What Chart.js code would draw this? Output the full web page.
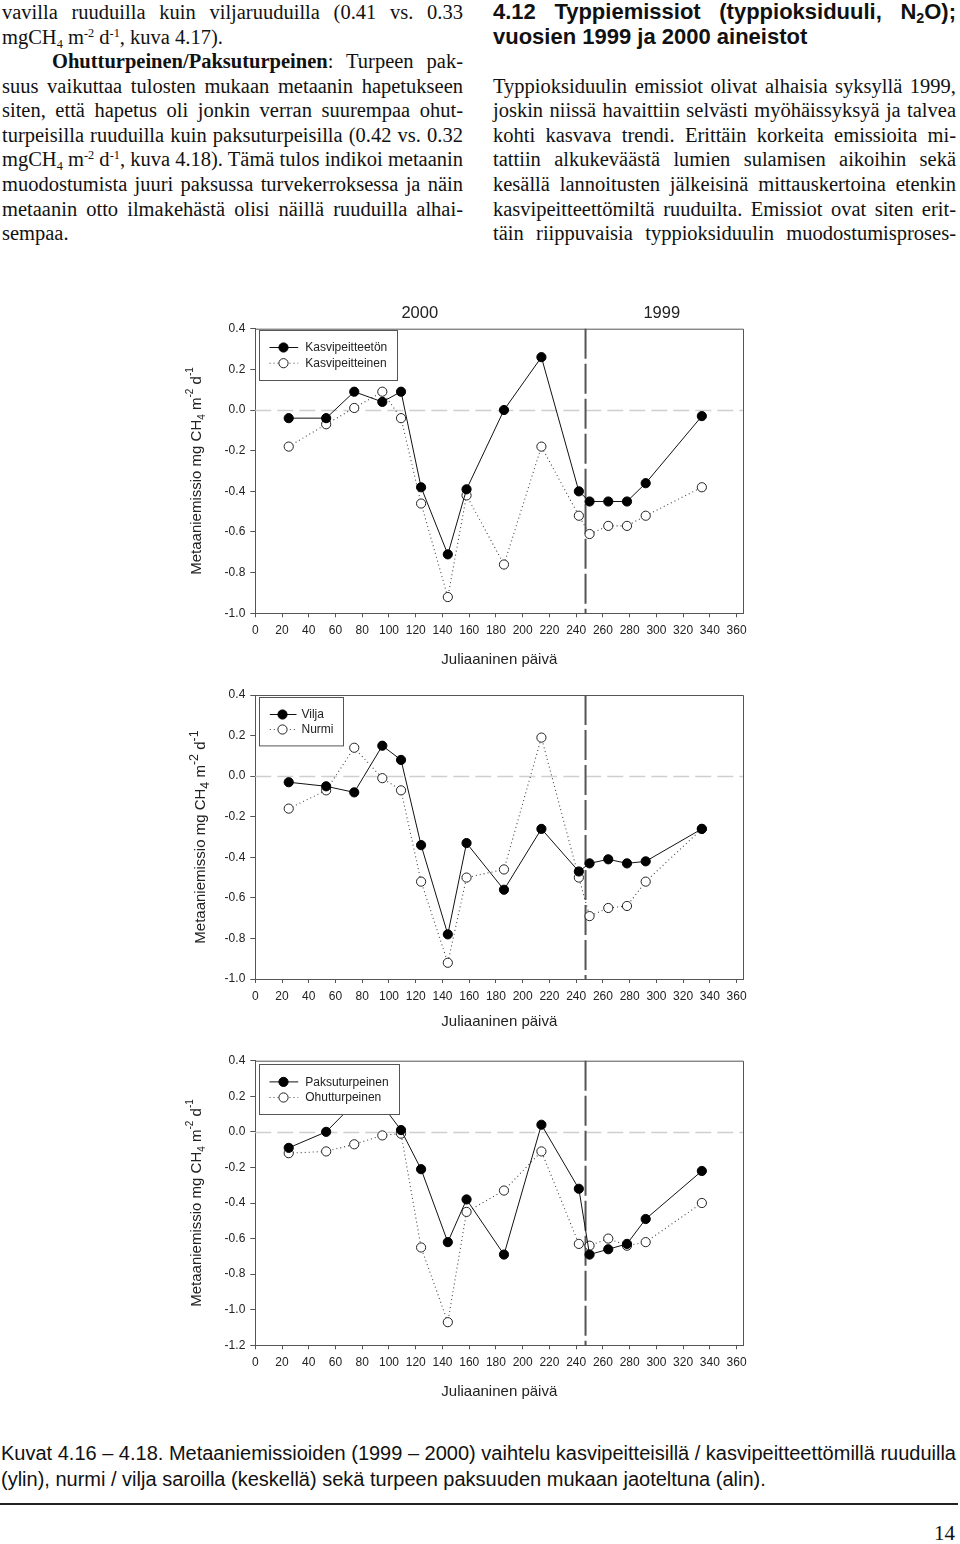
<!DOCTYPE html>
<html><head><meta charset="utf-8">
<script src="https://cdn.jsdelivr.net/npm/chart.js@4.4.1/dist/chart.umd.min.js"></script>
<style>
html,body{margin:0;padding:0;background:#fff;}
body{width:960px;height:1544px;position:relative;overflow:hidden;color:#111;}
.col{position:absolute;top:0;font-family:'Liberation Serif','Times New Roman',serif;font-size:20.5px;line-height:24.56px;}
.col div{white-space:nowrap;text-align:justify;text-align-last:justify;}
.col div.l{text-align:left;text-align-last:left;}
.col sub,.col sup{font-size:0.6em;line-height:0;}
.col sub{vertical-align:-0.3em}
.col sup{vertical-align:0.55em}
.h{font-family:'Liberation Sans',Arial,sans-serif;font-weight:bold;font-size:22px;}
.h sub{font-size:0.65em}
canvas{position:absolute;}
.cap{position:absolute;left:1px;font-family:'Liberation Sans',Arial,sans-serif;font-size:20px;line-height:26px;white-space:nowrap;transform-origin:0 0;color:#111;}
.rule{position:absolute;left:0;top:1503px;width:958px;height:2px;background:#222;}
.pg{position:absolute;right:5px;top:1520px;font-family:'Liberation Serif','Times New Roman',serif;font-size:21px;line-height:26px;color:#111;}
</style>
</head><body>

<div class="col" style="left:2px;width:461px;">
<div>vavilla ruuduilla kuin viljaruuduilla (0.41 vs. 0.33</div>
<div class="l">mgCH<sub>4</sub> m<sup>-2</sup> d<sup>-1</sup>, kuva 4.17).</div>
<div style="padding-left:50px;"><b>Ohutturpeinen/Paksuturpeinen</b>: Turpeen pak-</div>
<div>suus vaikuttaa tulosten mukaan metaanin hapetukseen</div>
<div>siten, että hapetus oli jonkin verran suurempaa ohut-</div>
<div>turpeisilla ruuduilla kuin paksuturpeisilla (0.42 vs. 0.32</div>
<div>mgCH<sub>4</sub> m<sup>-2</sup> d<sup>-1</sup>, kuva 4.18). Tämä tulos indikoi metaanin</div>
<div>muodostumista juuri paksussa turvekerroksessa ja näin</div>
<div>metaanin otto ilmakehästä olisi näillä ruuduilla alhai-</div>
<div class="l">sempaa.</div>
</div>

<div class="col" style="left:493px;width:463px;">
<div class="h">4.12 Typpiemissiot (typpioksiduuli, N<sub>2</sub>O);</div>
<div class="h l">vuosien 1999 ja 2000 aineistot</div>
<div class="l">&nbsp;</div>
<div>Typpioksiduulin emissiot olivat alhaisia syksyllä 1999,</div>
<div>joskin niissä havaittiin selvästi myöhäissyksyä ja talvea</div>
<div>kohti kasvava trendi. Erittäin korkeita emissioita mi-</div>
<div>tattiin alkukeväästä lumien sulamisen aikoihin sekä</div>
<div>kesällä lannoitusten jälkeisinä mittauskertoina etenkin</div>
<div>kasvipeitteettömiltä ruuduilta. Emissiot ovat siten erit-</div>
<div>täin riippuvaisia typpioksiduulin muodostumisproses-</div>
</div>

<canvas id="c1" width="620" height="385" style="left:150px;top:290px;width:620px;height:385px;"></canvas>
<canvas id="c2" width="620" height="370" style="left:150px;top:675px;width:620px;height:370px;"></canvas>
<canvas id="c3" width="620" height="370" style="left:150px;top:1045px;width:620px;height:370px;"></canvas>

<div class="cap" id="cap1" style="top:1440px;">Kuvat 4.16 – 4.18. Metaaniemissioiden (1999 – 2000) vaihtelu kasvipeitteisillä / kasvipeitteettömillä ruuduilla</div>
<div class="cap" id="cap2" style="top:1466px;">(ylin), nurmi / vilja saroilla (keskellä) sekä turpeen paksuuden mukaan jaoteltuna (alin).</div>
<div class="rule"></div>
<div class="pg">14</div>

<script>
// ---------------- data ----------------
const days = [25, 53, 74, 95, 109, 124, 144, 158, 186, 214, 242, 250, 264, 278, 292, 334];

// Kuva 4.16
const bareLabel = 'Kasvipeitteetön';
const bareValues = [-0.04, -0.04, 0.09, 0.04, 0.09, -0.38, -0.71, -0.39, 0.00, 0.26, -0.40, -0.45, -0.45, -0.45, -0.36, -0.03];
const vegLabel = 'Kasvipeitteinen';
const vegValues = [-0.18, -0.07, 0.01, 0.09, -0.04, -0.46, -0.92, -0.42, -0.76, -0.18, -0.52, -0.61, -0.57, -0.57, -0.52, -0.38];

// Kuva 4.17
const cerealLabel = 'Vilja';
const cerealValues = [-0.03, -0.05, -0.08, 0.15, 0.08, -0.34, -0.78, -0.33, -0.56, -0.26, -0.47, -0.43, -0.41, -0.43, -0.42, -0.26];
const grassLabel = 'Nurmi';
const grassValues = [-0.16, -0.07, 0.14, -0.01, -0.07, -0.52, -0.92, -0.50, -0.46, 0.19, -0.50, -0.69, -0.65, -0.64, -0.52, -0.26];

// Kuva 4.18
const thickLabel = 'Paksuturpeinen';
const thickValues = [-0.09, 0.00, 0.16, 0.15, 0.01, -0.21, -0.62, -0.38, -0.69, 0.04, -0.32, -0.69, -0.66, -0.63, -0.49, -0.22];
const thinLabel = 'Ohutturpeinen';
const thinValues = [-0.12, -0.11, -0.07, -0.02, -0.01, -0.65, -1.07, -0.45, -0.33, -0.11, -0.63, -0.64, -0.60, -0.64, -0.62, -0.40];

// axes
const xMin = 0, xMax = 365;
const xTicks = [0, 20, 40, 60, 80, 100, 120, 140, 160, 180, 200, 220, 240, 260, 280, 300, 320, 340, 360];
const yMax = 0.4, yStep = 0.2;
const yMins = [-1.0, -1.0, -1.2];
const yearDividerDay = 247;
const yearLabels = ['2000', '1999'];
const yearLabelDays = [123, 304];
const xAxisTitle = 'Juliaaninen päivä';
const yTitleParts = [['Metaaniemissio mg CH', ''], ['4', 'sub'], [' m', ''], ['-2', 'sup'], [' d', ''], ['-1', 'sup']];

// ---------------- drawing ----------------
const FONT = '"Liberation Sans", Arial, Helvetica, sans-serif';
const CANVAS_LEFT = 150;
const PLOT_LEFT = 255.3, PLOT_RIGHT = 743.3;

function toPoints(vals) { return days.map((d, i) => ({ x: d, y: vals[i] })); }

function filledSet(label, vals) {
  return { label, data: toPoints(vals), borderColor: '#111', borderWidth: 1, backgroundColor: '#000',
    pointBackgroundColor: '#000', pointBorderColor: '#000', pointRadius: 4.6, pointBorderWidth: 1, tension: 0, clip: false };
}
function openSet(label, vals) {
  return { label, data: toPoints(vals), borderColor: '#444', borderWidth: 1.1, borderDash: [1, 3], backgroundColor: '#fff',
    pointBackgroundColor: '#fff', pointBorderColor: '#222', pointRadius: 4.6, pointBorderWidth: 1, tension: 0, clip: false };
}

function drawRich(ctx, parts, cx, cy, base, small) {
  ctx.save();
  ctx.translate(cx, cy);
  ctx.rotate(-Math.PI / 2);
  const segs = parts.map(p => ({ t: p[0], k: p[1] }));
  let total = 0;
  segs.forEach(s => { ctx.font = (s.k ? small : base) + 'px ' + FONT; s.w = ctx.measureText(s.t).width; total += s.w; });
  let xx = -total / 2;
  ctx.textBaseline = 'middle';
  ctx.textAlign = 'left';
  ctx.fillStyle = '#222';
  segs.forEach(s => {
    ctx.font = (s.k ? small : base) + 'px ' + FONT;
    const dy = s.k === 'sub' ? base * 0.32 : s.k === 'sup' ? -base * 0.42 : 0;
    ctx.fillText(s.t, xx, dy);
    xx += s.w;
  });
  ctx.restore();
}

const decor = {
  id: 'decor',
  beforeDatasetsDraw(chart, args, o) {
    const { ctx, chartArea: a, scales: { x, y } } = chart;
    ctx.save();
    const y0 = Math.round(y.getPixelForValue(0)) + 0.5;
    ctx.strokeStyle = '#cfcfcf'; ctx.lineWidth = 1.4; ctx.setLineDash([16, 6]);
    ctx.beginPath(); ctx.moveTo(a.left, y0); ctx.lineTo(a.right, y0); ctx.stroke();
    const xd = x.getPixelForValue(yearDividerDay);
    ctx.strokeStyle = '#555'; ctx.lineWidth = 2; ctx.setLineDash([30, 5]);
    ctx.beginPath(); ctx.moveTo(xd, a.top); ctx.lineTo(xd, a.bottom); ctx.stroke();
    ctx.restore();
  },
  afterDatasetsDraw(chart, args, o) {
    const { ctx, chartArea: a } = chart;
    const L = o.legend;
    ctx.save();
    ctx.font = '12px ' + FONT;
    const tw = Math.max(...chart.data.datasets.map(d => ctx.measureText(d.label).width));
    const bx = Math.round(a.left + 4) + 0.5, by = Math.round(a.top + L.dy) + 0.5;
    const w = Math.round(L.textX + tw + 10.5), h = L.h;
    ctx.fillStyle = '#fff'; ctx.fillRect(bx, by, w, h);
    ctx.strokeStyle = '#555'; ctx.lineWidth = 1; ctx.setLineDash([]);
    ctx.strokeRect(bx, by, w, h);
    chart.data.datasets.forEach((d, i) => {
      const ry = by + L.rows[i];
      ctx.save();
      ctx.strokeStyle = d.borderColor; ctx.lineWidth = d.borderWidth; ctx.setLineDash(d.borderDash || []);
      ctx.beginPath(); ctx.moveTo(bx + L.l0, ry); ctx.lineTo(bx + L.l1, ry); ctx.stroke();
      ctx.setLineDash([]);
      ctx.beginPath(); ctx.arc(bx + L.mx, ry, d.pointRadius, 0, Math.PI * 2);
      ctx.fillStyle = d.pointBackgroundColor; ctx.fill();
      ctx.lineWidth = 1; ctx.strokeStyle = d.pointBorderColor; ctx.stroke();
      ctx.restore();
      ctx.fillStyle = '#222'; ctx.textBaseline = 'middle'; ctx.textAlign = 'left';
      ctx.font = '12px ' + FONT;
      ctx.fillText(d.label, bx + L.textX, ry + 0.5);
    });
    ctx.restore();
  },
  afterDraw(chart, args, o) {
    const { ctx, chartArea: a, scales: { x } } = chart;
    ctx.save();
    ctx.strokeStyle = '#555'; ctx.lineWidth = 1; ctx.setLineDash([]);
    ctx.beginPath();
    ctx.moveTo(a.left, a.top + 0.5); ctx.lineTo(Math.round(a.right) + 0.5, a.top + 0.5); ctx.lineTo(Math.round(a.right) + 0.5, a.bottom);
    ctx.stroke();
    ctx.fillStyle = '#222'; ctx.font = '15px ' + FONT; ctx.textAlign = 'center'; ctx.textBaseline = 'middle';
    ctx.fillText(xAxisTitle, (a.left + a.right) / 2, a.bottom + o.xTitleOff);
    if (o.years) {
      ctx.font = '16.5px ' + FONT;
      yearLabels.forEach((t, i) => ctx.fillText(t, x.getPixelForValue(yearLabelDays[i]), a.top - 15));
    }
    ctx.restore();
    drawRich(ctx, yTitleParts, o.yTitleX - CANVAS_LEFT, (a.top + a.bottom) / 2, 15, o.small);
  }
};

function makeChart(id, canvasTop, canvasH, plotTop, plotBottom, yMin, sets, opt) {
  const ctx = document.getElementById(id);
  return new Chart(ctx, {
    type: 'line',
    data: { datasets: sets },
    plugins: [decor],
    options: {
      responsive: false, animation: false, events: [],
      layout: { padding: { left: 0, right: 770 - PLOT_RIGHT, top: plotTop - canvasTop, bottom: 0 } },
      plugins: { legend: { display: false }, tooltip: { enabled: false }, decor: opt },
      scales: {
        x: {
          type: 'linear', min: xMin, max: xMax,
          afterFit: s => { s.height = canvasTop + canvasH - plotBottom; },
          afterBuildTicks: s => { s.ticks = xTicks.map(v => ({ value: v })); },
          ticks: { color: '#222', font: { size: 12, family: FONT }, padding: 6, maxRotation: 0, minRotation: 0, autoSkip: false,
            callback: v => String(v) },
          grid: { drawOnChartArea: false, drawTicks: true, tickLength: 4, color: '#555' },
          border: { display: true, color: '#555', width: 1 }
        },
        y: {
          type: 'linear', min: yMin, max: yMax,
          afterFit: s => { s.width = PLOT_LEFT - CANVAS_LEFT; },
          ticks: { stepSize: yStep, color: '#222', font: { size: 12, family: FONT }, padding: 5,
            callback: v => (Math.abs(v) < 1e-9 ? 0 : v).toFixed(1) },
          grid: { drawOnChartArea: false, drawTicks: true, tickLength: 5, color: '#555' },
          border: { display: true, color: '#555', width: 1 }
        }
      }
    }
  });
}

makeChart('c1', 290, 385, 328.7, 613.3, yMins[0],
  [filledSet(bareLabel, bareValues), openSet(vegLabel, vegValues)],
  { legend: { dy: 1.5, h: 50, rows: [17, 32.7], l0: 10, l1: 38.7, mx: 24, textX: 45.7 }, xTitleOff: 46.7, yTitleX: 197, small: 10, years: true });

makeChart('c2', 675, 370, 695, 979, yMins[1],
  [filledSet(cerealLabel, cerealValues), openSet(grassLabel, grassValues)],
  { legend: { dy: 2.3, h: 48.4, rows: [17, 32], l0: 10.3, l1: 37, mx: 23, textX: 42 }, xTitleOff: 42.7, yTitleX: 201, small: 12.5, years: false });

makeChart('c3', 1045, 370, 1060.7, 1345.3, yMins[2],
  [filledSet(thickLabel, thickValues), openSet(thinLabel, thinValues)],
  { legend: { dy: 3.5, h: 50, rows: [17.4, 33], l0: 10, l1: 38.7, mx: 24, textX: 45.7 }, xTitleOff: 46.4, yTitleX: 197, small: 10, years: false });

(function () {
  const c1 = document.getElementById('cap1'), c2 = document.getElementById('cap2');
  const k = 955 / c1.scrollWidth;
  c1.style.transform = 'scaleX(' + k + ')';
  c2.style.transform = 'scaleX(' + k + ')';
})();
</script>
</body></html>
